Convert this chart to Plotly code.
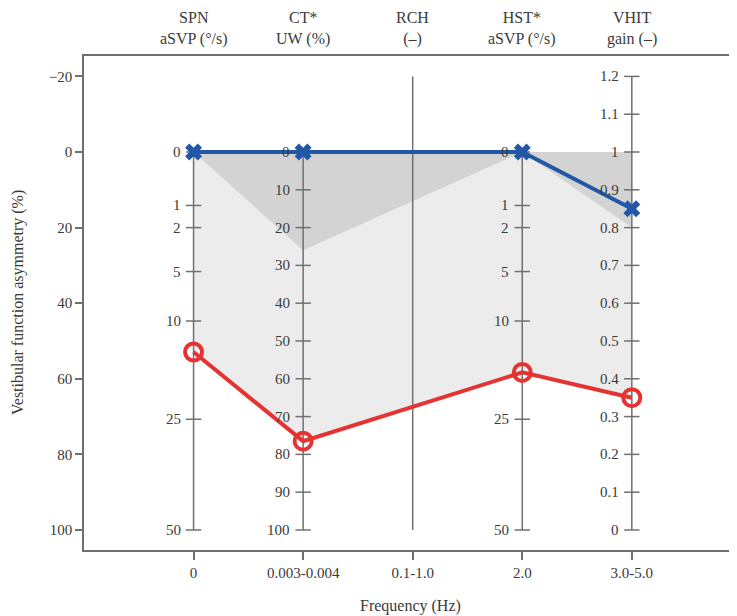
import math
import plotly.graph_objects as go

# ---------------- data ----------------
categories = ["0", "0.003-0.004", "0.1-1.0", "2.0", "3.0-5.0"]
test_names = ["SPN", "CT*", "RCH", "HST*", "VHIT"]
test_units = ["aSVP (°/s)", "UW (%)", "(–)", "aSVP (°/s)", "gain (–)"]

# native units per test (None = no measurement on that axis)
normal_values = [0, 0, None, 0, 0.85]          # blue crosses
patient_values = [14, 76.5, None, 17, 0.35]    # red circles
normal_limit = [0, 26, None, 0, 0.8]           # dark grey normal band

main_ticks = [-20, 0, 20, 40, 60, 80, 100]
main_tick_text = ["\u221220", "0", "20", "40", "60", "80", "100"]

spn_ticks = [0, 1, 2, 5, 10, 25, 50]
ct_ticks = [0, 10, 20, 30, 40, 50, 60, 70, 80, 90, 100]
hst_ticks = [0, 1, 2, 5, 10, 25, 50]
vhit_ticks = [0, 0.1, 0.2, 0.3, 0.4, 0.5, 0.6, 0.7, 0.8, 0.9, 1, 1.1, 1.2]
vhit_tick_text = ["0", "0.1", "0.2", "0.3", "0.4", "0.5", "0.6", "0.7", "0.8", "0.9", "1", "1.1", "1.2"]


# ------------- scale transforms to asymmetry (%) -------------
def sqrt50(v):
    return 100 * math.sqrt(v / 50)


def linear(v):
    return v


def gain(v):
    return (1 - v) * 100


transforms = [sqrt50, linear, None, sqrt50, gain]


def to_pct(vals):
    out = []
    for i, v in enumerate(vals):
        out.append(None if (v is None or transforms[i] is None) else transforms[i](v))
    return out


blue_y = to_pct(normal_values)
red_y = to_pct(patient_values)
dark_y = to_pct(normal_limit)
xs = list(range(len(categories)))

FONT = "Liberation Serif"
TXT = "#3a3a3a"
AX = "#707070"
BLUE = "#2257a8"
RED = "#e53331"

fig = go.Figure()

# light grey: between the normal line and the patient line
bx = [x for x, y in zip(xs, blue_y) if y is not None]
by = [y for y in blue_y if y is not None]
rx = [x for x, y in zip(xs, red_y) if y is not None]
ry = [y for y in red_y if y is not None]
fig.add_trace(go.Scatter(x=bx + rx[::-1], y=by + ry[::-1], fill="toself",
                         fillcolor="#ececec", line=dict(width=0), mode="lines",
                         hoverinfo="skip", showlegend=False))

# dark grey: normal band
dx = [x for x, y in zip(xs, dark_y) if y is not None]
dy = [y for y in dark_y if y is not None]
fig.add_trace(go.Scatter(x=dx + dx[::-1], y=dy + [0] * len(dx), fill="toself",
                         fillcolor="#d3d3d3", line=dict(width=0), mode="lines",
                         hoverinfo="skip", showlegend=False))

# per-test vertical axes
tick_sets = [
    (spn_ticks, [str(t) for t in spn_ticks]),
    (ct_ticks, [str(t) for t in ct_ticks]),
    None,
    (hst_ticks, [str(t) for t in hst_ticks]),
    (vhit_ticks, vhit_tick_text),
]
annotations = []
for i in xs:
    ts = tick_sets[i]
    if ts is None:
        y0, y1 = main_ticks[0], main_ticks[-1]
    else:
        pos = [transforms[i](t) for t in ts[0]]
        y0, y1 = min(pos), max(pos)
    fig.add_trace(go.Scatter(x=[i, i], y=[y0, y1], mode="lines",
                             line=dict(color=AX, width=1.5),
                             hoverinfo="skip", showlegend=False))
    if ts is not None:
        pos = [transforms[i](t) for t in ts[0]]
        fig.add_trace(go.Scatter(x=[i] * len(pos), y=pos, mode="markers",
                                 marker=dict(symbol="line-ew-open", size=11, color=AX,
                                             line=dict(color=AX, width=1.5)),
                                 hoverinfo="skip", showlegend=False))
        for p, lab in zip(pos, ts[1]):
            annotations.append(dict(x=i, y=p, xref="x", yref="y", text=lab,
                                    showarrow=False, xanchor="right", yanchor="middle",
                                    xshift=-11, font=dict(family=FONT, size=15, color=TXT)))
    annotations.append(dict(x=i, y=1, xref="x", yref="paper",
                            text=test_names[i] + "<br>" + test_units[i],
                            showarrow=False, xanchor="center", yanchor="bottom",
                            yshift=6, font=dict(family=FONT, size=16, color=TXT)))

# normal (blue) and patient (red) lines
fig.add_trace(go.Scatter(x=xs, y=blue_y, mode="lines+markers", connectgaps=True,
                         line=dict(color=BLUE, width=4),
                         marker=dict(symbol="x", size=15, color=BLUE),
                         hoverinfo="skip", showlegend=False))
fig.add_trace(go.Scatter(x=xs, y=red_y, mode="lines+markers", connectgaps=True,
                         line=dict(color=RED, width=4),
                         marker=dict(symbol="circle-open", size=17, color=RED,
                                     line=dict(color=RED, width=4)),
                         hoverinfo="skip", showlegend=False))

annotations.append(dict(x=0, y=0.5, xref="paper", yref="paper",
                        text="Vestibular function asymmetry (%)", textangle=-90,
                        showarrow=False, xanchor="center", yanchor="middle",
                        xshift=-66, font=dict(family=FONT, size=16, color=TXT)))
annotations.append(dict(x=0.5, y=0, xref="paper", yref="paper",
                        text="Frequency (Hz)", showarrow=False,
                        xanchor="center", yanchor="middle", yshift=-56,
                        font=dict(family=FONT, size=16, color=TXT)))

# page body has an 8px margin: compensate so the plot lands where the reference has it
fig.update_layout(
    width=729, height=608,
    margin=dict(l=76, r=0, t=48, b=66),
    paper_bgcolor="white", plot_bgcolor="white",
    font=dict(family=FONT, size=15, color=TXT),
    annotations=annotations,
    xaxis=dict(range=[-1.0, 4.96], tickvals=xs, ticktext=categories,
               ticks="outside", ticklen=8, tickwidth=1.5, tickcolor=AX,
               showline=True, linecolor=AX, linewidth=1.5, mirror=True,
               showgrid=False, zeroline=False,
               tickfont=dict(family=FONT, size=15, color=TXT)),
    yaxis=dict(range=[105.3, -25.4], tickvals=main_ticks, ticktext=main_tick_text,
               ticks="outside", ticklen=7, tickwidth=1.5, tickcolor=AX,
               showline=True, linecolor=AX, linewidth=1.5,
               showgrid=False, zeroline=False,
               tickfont=dict(family=FONT, size=15, color=TXT)),
)

fig.write_html("out.html")
